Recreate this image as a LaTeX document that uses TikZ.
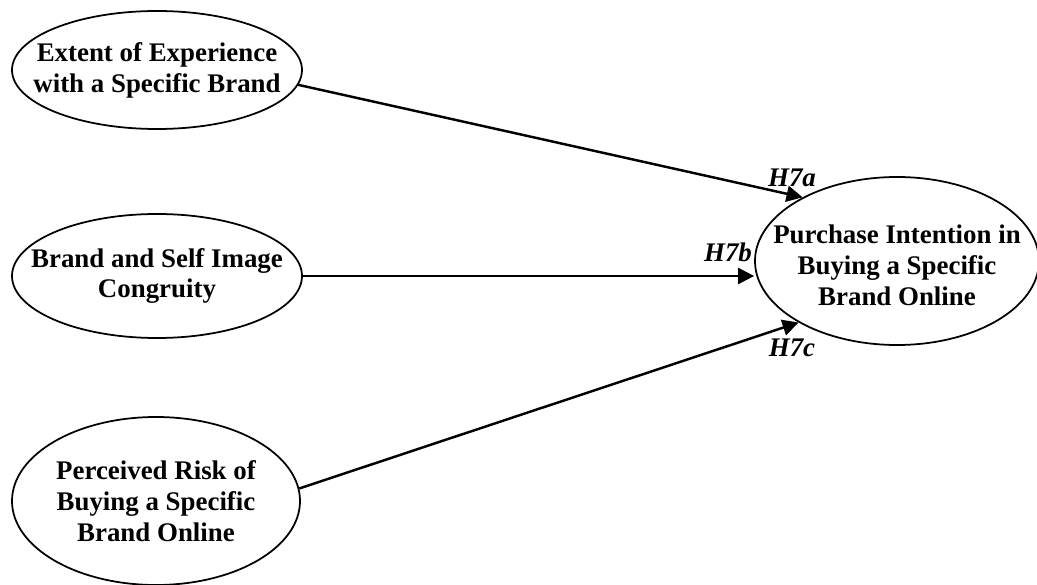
\documentclass[tikz,border=0pt]{standalone}
\usepackage{fontspec}
\setmainfont{Liberation Serif}
\usetikzlibrary{arrows.meta,shapes.geometric}

\begin{document}
\begin{tikzpicture}[
      >={Triangle[length=0.32cm,width=0.32cm]},
      construct/.style={
        draw,
        ellipse,
        line width=1pt,
        inner sep=0pt
      },
      caption/.style={
        font=\bfseries\fontsize{15.3}{17.6}\selectfont,
        align=center
      },
      hyp/.style={
        font=\bfseries\itshape\fontsize{15.3}{17.6}\selectfont
      },
      link/.style={
        ->,
        line width=1.4pt
      },
    ]

    \useasboundingbox (0,0) rectangle (20.74,11.68);

    \node [construct, minimum width=5.8cm, minimum height=2.36cm] (exp) at (3.14,10.28) {};
    \node [caption] (exp text) at (exp) {Extent of Experience\\with a Specific Brand};

    \node [construct, minimum width=5.8cm, minimum height=2.48cm] (cong) at (3.14,6.16) {};
    \node [caption] (cong text) at (cong) {Brand and Self Image\\Congruity};

    \node [construct, minimum width=5.76cm, minimum height=3.36cm] (risk) at (3.12,1.66) {};
    \node [caption] (risk text) at (risk) {Perceived Risk of\\Buying a Specific\\Brand Online};

    \node [construct, minimum width=5.68cm, minimum height=3.36cm] (pi) at (17.94,6.46) {};
    \node [caption] (pi text) at ([yshift=-0.08cm]pi) {Purchase Intention in\\Buying a Specific\\Brand Online};

    \draw [link] (exp.-6) -- (pi.146.6);
    \draw [link] (cong) -- (cong -| pi.west);
    \draw [link] (risk.5) -- (pi.212.7);

    \node [hyp] (h7a) at (15.84,8.12) {H7a};
    \node [hyp] (h7b) at (14.56,6.64) {H7b};
    \node [hyp] (h7c) at (15.84,4.72) {H7c};
  \end{tikzpicture}
\end{document}
